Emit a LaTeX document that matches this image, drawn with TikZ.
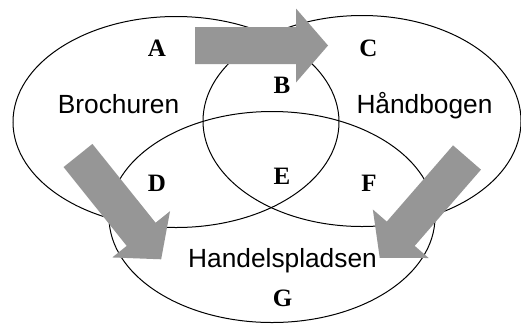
\documentclass[tikz,border=0pt]{standalone}
\usepackage{fontspec}
\setmainfont{Liberation Serif}
\newfontfamily\labelfont{Liberation Sans}
\usetikzlibrary{shapes.geometric}
\definecolor{arrowgray}{RGB}{150,150,150}
\tikzset{
  x=1pt, y=1pt,
  venn/.style={draw=black, line width=1pt, ellipse, minimum width=326pt, minimum height=211pt, inner sep=0pt},
  setname/.style={anchor=base, inner sep=0pt, font=\labelfont\fontsize{26.3}{30}\selectfont},
  region/.style={anchor=base, inner sep=0pt, font=\bfseries\fontsize{25}{28}\selectfont},
  blockarrow/.pic={\fill[arrowgray] (0,-18.5) -- (101,-18.5) -- (101,-37) -- (133,0) -- (101,37) -- (101,18.5) -- (0,18.5) -- cycle;}
}
\begin{document}
\begin{tikzpicture}
\useasboundingbox (0,0) rectangle (521,-325);
\fill[white] (0,0) rectangle (521,-325);
\node[venn] (leftset) at (176,-122) {};
\node[venn, minimum width=318pt] (rightset) at (362,-121) {};
\node[venn] (bottomset) at (272,-217) {};
\pic at (195,-45.5) {blockarrow};
\pic[rotate=-51.3] at (78,-155.5) {blockarrow};
\pic[rotate=-131] at (467,-157.5) {blockarrow};
\node[setname] (broch) at (118.5,-113) {Brochuren};
\node[setname] (haand) at (424.5,-113) {Håndbogen};
\node[setname] (handel) at (282.5,-267) {Handelspladsen};
\node[region] (A) at (157,-56) {A};
\node[region] (C) at (368.5,-56) {C};
\node[region] (B) at (282,-93) {B};
\node[region] (D) at (157,-191) {D};
\node[region] (E) at (282,-184) {E};
\node[region] (F) at (369,-191) {F};
\node[region] (G) at (282.5,-306) {G};
\end{tikzpicture}
\end{document}
